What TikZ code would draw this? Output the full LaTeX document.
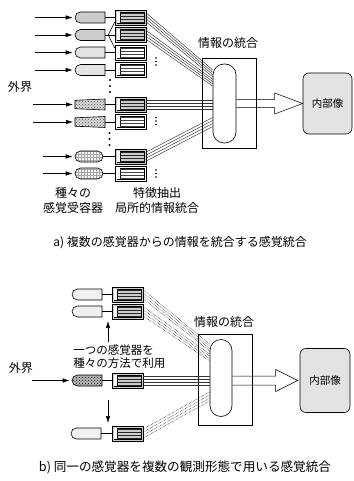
\documentclass[tikz,border=0pt]{standalone}
\usepackage{fontspec}
\setmainfont{Noto Sans CJK JP}
\usetikzlibrary{shapes.misc,calc,patterns,arrows.meta}
\newcommand\boxinside[1]{%
  \draw[line width=.4pt] ([shift={(2pt,-2pt)}]path picture bounding box.north west) rectangle ([shift={(-2pt,2pt)}]path picture bounding box.south east);
  \fill[white] ([shift={(2pt,-2pt)}]path picture bounding box.north west) rectangle ([shift={(5pt,2pt)}]path picture bounding box.south west);
  \draw[line width=.4pt] ([shift={(5pt,-2pt)}]path picture bounding box.north west) -- ([shift={(5pt,2pt)}]path picture bounding box.south west);
  \foreach \d in {-4.5,-1.5,1.5,4.5}
    \draw[#1] ([shift={(5pt,\d pt)}]path picture bounding box.west) -- ([shift={(-2pt,\d pt)}]path picture bounding box.east);
}
\begin{document}
\begin{tikzpicture}[x=1pt,y=-1pt,line width=0.6pt,
  lbl/.style={font=\fontsize{12}{15}\selectfont, inner sep=0, align=center},
  capt/.style={font=\fontsize{12}{14}\selectfont, inner sep=0},
  rec/.style={draw, rounded rectangle, rounded rectangle east arc=none, minimum width=30pt, minimum height=11pt, inner sep=0},
  pillrec/.style={draw, rounded rectangle, minimum width=28pt, minimum height=11pt, inner sep=0},
  fbbase/.style={draw, minimum width=31pt, minimum height=15pt, inner sep=0},
  fbg/.style={fbbase, fill=gray!40, path picture={\boxinside{black!85, line width=0.5pt}}},
  fbw/.style={fbbase, fill=white, path picture={\boxinside{black!75, line width=0.95pt}}},
  inarr/.style={-{Latex[length=7pt,width=4.5pt]}, line width=0.6pt, shorten >=2pt},
  cl/.style={line width=0.45pt, black!80},
  dl/.style={line width=0.5pt, densely dotted},
  pill/.style={draw, rectangle, rounded corners=11pt, inner sep=0},
  frame/.style={draw, line width=0.5pt, inner sep=0},
  img/.style={draw, fill=gray!22, rounded corners=6pt, inner sep=0, font=\fontsize{10.5}{12}\selectfont}
]
\useasboundingbox (0,0) rectangle (353,481);

% ================= part a =================
\node[rec, fill=gray!40] (r1) at (90,17.5) {};
\node[rec, fill=gray!40] (r2) at (90,35) {};
\node[rec, fill=gray!22] (r3) at (90,52.5) {};
\node[rec, fill=gray!22] (r4) at (90,70) {};
% tapered receptors
\coordinate (r5) at (90,104.5);
\coordinate (r6) at (90,122);
\foreach \c in {r5,r6}{
  \draw[preaction={fill=gray!30}, pattern=crosshatch dots, pattern color=black!70]
    ($(\c)+(-15,-4.2)$) -- ($(\c)+(15,-5.5)$) -- ($(\c)+(15,5.5)$) -- ($(\c)+(-15,4.2)$) -- cycle;
}
\coordinate (r5w) at ($(r5)+(-15,0)$);
\coordinate (r5e) at ($(r5)+(15,0)$);
\coordinate (r6w) at ($(r6)+(-15,0)$);
\coordinate (r6e) at ($(r6)+(15,0)$);
\node[pillrec, preaction={fill=gray!10}, pattern=grid, pattern color=gray!70] (r7) at (89,156.5) {};
\node[pillrec, preaction={fill=gray!10}, pattern=grid, pattern color=gray!70] (r8) at (89,173.5) {};

\node[fbg] (bx1) at (130.5,17.5) {};
\node[fbg] (bx2) at (130.5,35) {};
\node[fbw] (bx3) at (130.5,52.5) {};
\node[fbw] (bx4) at (130.5,70) {};
\node[fbg] (bx5) at (130.5,104.5) {};
\node[fbw] (bx6) at (130.5,122) {};
\node[fbg] (bx7) at (130.5,156.5) {};
\node[fbw] (bx8) at (130.5,173.5) {};

% stubs
\draw (r1.east) -- (bx1.west);
\draw (r2.east) -- (bx2.west);
\coordinate (j2) at ($(r2.east)+(3,0)$);
\draw (j2) -- ([yshift=-4.5pt]bx1.west);
\draw (j2) -- ([yshift=4.5pt]bx3.west);
\draw (r3.east) -- (bx3.west);
\draw (r4.east) -- (bx4.west);
\draw (r5e) -- (bx5.west);
\draw (r6e) -- (bx6.west);
\draw (r7.east) -- (bx7.west);
\draw (r8.east) -- (bx8.west);

% input arrows
\coordinate (s1) at (35,17.5);
\coordinate (s2) at (35,35);
\coordinate (s3) at (35,52.5);
\coordinate (s4) at (35,70);
\coordinate (s5) at (33,104.5);
\coordinate (s6) at (33,122);
\coordinate (s7) at (43,156.5);
\coordinate (s8) at (43,173.5);
\draw[inarr] (s1) -- (r1.west);
\draw[inarr] (s2) -- (r2.west);
\draw[inarr] (s3) -- (r3.west);
\draw[inarr] (s4) -- (r4.west);
\draw[inarr] (s5) -- (r5w);
\draw[inarr] (s6) -- (r6w);
\draw[inarr] (s7) -- (r7.west);
\draw[inarr] (s8) -- (r8.west);

\node[lbl] (Ea) at (20,87) {外界};

% dots
\foreach \y in {80,86,92} \fill (110,\y) circle (1.2pt);
\foreach \y in {133,139,145} \fill (109.5,\y) circle (1.2pt);
\foreach \y in {58,61.5,65} \fill (156,\y) circle (0.8pt);
\foreach \y in {117.5,121,124.5} \fill (156,\y) circle (0.8pt);
\foreach \y in {170,173.5,177} \fill (156,\y) circle (0.8pt);

\node[lbl] (La1) at (73,200.5) {種々の\\感覚受容器};
\node[lbl] (La2) at (157,200.5) {特徴抽出\\局所的情報統合};

% integration
\node[frame, minimum width=54pt, minimum height=90pt] (Ra) at (229,103) {};
\node[pill, fill=white, minimum width=23pt, minimum height=79pt] (Pa) at (224.5,103.5) {};
\node[lbl] (Ia0) at (228,43) {情報の統合};

\foreach \o/\t in {-4.5/70,-1.5/72.3,1.5/74.6,4.5/76.9}
  \draw[cl] ([yshift=-\o pt]bx1.east) -- (Pa.west |- 0,\t);
\foreach \o/\t in {-4.5/79.2,-1.5/81.5,1.5/83.8,4.5/86.1}
  \draw[cl] ([yshift=-\o pt]bx2.east) -- (Pa.west |- 0,\t);
\foreach \o in {-4.5,-1.5,1.5,4.5}
  \draw[cl] ([yshift=-\o pt]bx5.east) -- (Pa.west |- 0,104.5+\o);
\foreach \o/\t in {-4.5/117.5,-1.5/120.5,1.5/123.5,4.5/126.5}
  \draw[cl] ([yshift=-\o pt]bx7.east) -- (Pa.west |- 0,\t);

\node[img, minimum width=49pt, minimum height=61pt] (Ia) at (327.5,103.5) {内部像};
\draw[line width=0.5pt] ($(Pa.east)+(0,-4.2)$) -- ($(Ia.west)+(-28,-4.2)$) -- ($(Ia.west)+(-28,-10.5)$) -- (Ia.west)
  -- ($(Ia.west)+(-28,10.5)$) -- ($(Ia.west)+(-28,4.2)$) -- ($(Pa.east)+(0,4.2)$);

\node[capt] (Ca) at (180,243) {a) 複数の感覚器からの情報を統合する感覚統合};

% ================= part b =================
\node[rec, fill=gray!12] (q1) at (87,294.5) {};
\node[rec, fill=gray!12] (q2) at (87,311.5) {};
\node[rec, preaction={fill=gray!55}, pattern=crosshatch dots, pattern color=black] (q3) at (87,380.5) {};
\node[rec, fill=gray!12] (q4) at (86,433.5) {};

\node[fbg] (bq1) at (127.5,294.5) {};
\node[fbg] (bq2) at (127.5,311.5) {};
\node[fbg] (bq3) at (127.5,380.5) {};
\node[fbg] (bq4) at (127.5,433.5) {};

\draw (q1.east) -- (bq1.west);
\draw (q2.east) -- (bq2.west);
\draw (q3.east) -- (bq3.west);
\draw (q4.east) -- (bq4.west);

\coordinate (ua) at (108,342);
\coordinate (ut) at (108,321);
\draw[inarr, shorten >=0pt] (ua) -- (ut);
\coordinate (da) at (108,400);
\coordinate (dt) at (108,423);
\draw[inarr, shorten >=0pt] (da) -- (dt);

\node[lbl, align=left, anchor=west, font=\fontsize{11.5}{13.5}\selectfont] (Lm) at (73,356.5) {一つの感覚器を\\種々の方法で利用};

\node[lbl] (Eb) at (21,368) {外界};
\coordinate (sb) at (32,380.5);
\draw[inarr] (sb) -- (q3.west);

\node[frame, minimum width=54pt, minimum height=91pt] (Rb) at (225,379.5) {};
\node[pill, fill=white, minimum width=22pt, minimum height=77pt] (Pb) at (221,378) {};
\node[lbl] (Ib0) at (224,322) {情報の統合};

\foreach \o/\t in {-4.5/344,-1.5/346.3,1.5/348.6,4.5/350.9}
  \draw[dl] ([yshift=-\o pt]bq1.east) -- (Pb.west |- 0,\t);
\foreach \o/\t in {-4.5/354,-1.5/356.3,1.5/358.6,4.5/360.9}
  \draw[dl] ([yshift=-\o pt]bq2.east) -- (Pb.west |- 0,\t);
\foreach \o in {-4.5,-1.5,1.5,4.5}
  \draw[cl] ([yshift=-\o pt]bq3.east) -- (Pb.west |- 0,380.5+\o);
\foreach \o/\t in {-4.5/392,-1.5/395,1.5/398,4.5/401}
  \draw[dl] ([yshift=-\o pt]bq4.east) -- (Pb.west |- 0,\t);

\node[img, minimum width=50pt, minimum height=64pt] (Ib) at (325,380.5) {内部像};
\draw[line width=0.5pt] ($(Pb.east |- Ib.west)+(0,-4.5)$) -- ($(Ib.west)+(-24,-4.5)$) -- ($(Ib.west)+(-24,-11)$) -- ($(Ib.west)+(-2,0)$)
  -- ($(Ib.west)+(-24,11)$) -- ($(Ib.west)+(-24,4.5)$) -- ($(Pb.east |- Ib.west)+(0,4.5)$);

\node[capt, font=\fontsize{12.6}{14}\selectfont] (Cb) at (185,467) {b) 同一の感覚器を複数の観測形態で用いる感覚統合};
\end{tikzpicture}
\end{document}
